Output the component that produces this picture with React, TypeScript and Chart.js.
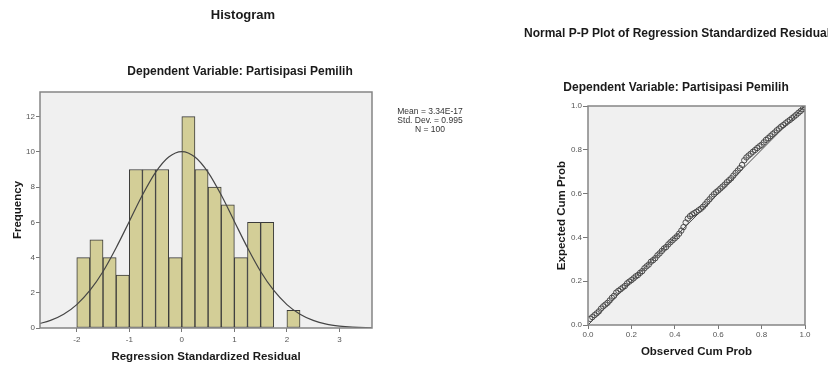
import React, { useEffect, useRef } from 'react';
import { Chart, registerables } from 'chart.js';

Chart.register(...registerables);

const FONT = '"Liberation Sans", Arial, Helvetica, sans-serif';

// ---------- Histogram data ----------
const histTitle = 'Histogram';
const depSubtitle = 'Dependent Variable: Partisipasi Pemilih';
const histXTitle = 'Regression Standardized Residual';
const histYTitle = 'Frequency';
const binWidth = 0.25;
const binStart = [-2, -1.75, -1.5, -1.25, -1, -0.75, -0.5, -0.25, 0, 0.25, 0.5, 0.75, 1, 1.25, 1.5, 1.75, 2];
const binCount = [4, 5, 4, 3, 9, 9, 9, 4, 12, 9, 8, 7, 4, 6, 6, 0, 1];
const curveX = [-2.75, -2.5, -2.25, -2, -1.75, -1.5, -1.25, -1, -0.75, -0.5, -0.25, 0, 0.25, 0.5, 0.75, 1, 1.25, 1.5, 1.75, 2, 2.25, 2.5, 2.75, 3, 3.25, 3.5, 3.75];
const curveY = [0.22, 0.43, 0.78, 1.33, 2.13, 3.21, 4.56, 6.05, 7.55, 8.84, 9.71, 10.02, 9.71, 8.84, 7.55, 6.05, 4.56, 3.21, 2.13, 1.33, 0.78, 0.43, 0.22, 0.11, 0.05, 0.02, 0.01];
const histXTicks = [-2, -1, 0, 1, 2, 3];
const histYTicks = [0, 2, 4, 6, 8, 10, 12];
const statsLines = ['Mean = 3.34E-17', 'Std. Dev. = 0.995', 'N = 100'];

// ---------- P-P plot data ----------
const ppTitle = 'Normal P-P Plot of Regression Standardized Residual';
const ppXTitle = 'Observed Cum Prob';
const ppYTitle = 'Expected Cum Prob';
const ppTicks = [0, 0.2, 0.4, 0.6, 0.8, 1.0];
const observedCum = [
  0.01, 0.02, 0.03, 0.04, 0.05, 0.06, 0.07, 0.08, 0.09, 0.10,
  0.11, 0.12, 0.13, 0.14, 0.15, 0.16, 0.17, 0.18, 0.19, 0.20,
  0.21, 0.22, 0.23, 0.24, 0.25, 0.26, 0.27, 0.28, 0.29, 0.30,
  0.31, 0.32, 0.33, 0.34, 0.35, 0.36, 0.37, 0.38, 0.39, 0.40,
  0.41, 0.42, 0.43, 0.44, 0.45, 0.46, 0.47, 0.48, 0.49, 0.50,
  0.51, 0.52, 0.53, 0.54, 0.55, 0.56, 0.57, 0.58, 0.59, 0.60,
  0.61, 0.62, 0.63, 0.64, 0.65, 0.66, 0.67, 0.68, 0.69, 0.70,
  0.71, 0.72, 0.73, 0.74, 0.75, 0.76, 0.77, 0.78, 0.79, 0.80,
  0.81, 0.82, 0.83, 0.84, 0.85, 0.86, 0.87, 0.88, 0.89, 0.90,
  0.91, 0.92, 0.93, 0.94, 0.95, 0.96, 0.97, 0.98, 0.99, 1.00,
];
const expectedCum = [
  0.028, 0.036, 0.045, 0.053, 0.062, 0.075, 0.085, 0.093, 0.101, 0.112,
  0.124, 0.133, 0.148, 0.156, 0.163, 0.171, 0.178, 0.190, 0.198, 0.205,
  0.213, 0.222, 0.228, 0.238, 0.246, 0.259, 0.268, 0.276, 0.289, 0.296,
  0.305, 0.318, 0.327, 0.338, 0.349, 0.356, 0.368, 0.378, 0.387, 0.396,
  0.405, 0.417, 0.431, 0.447, 0.468, 0.486, 0.497, 0.505, 0.511, 0.517,
  0.524, 0.531, 0.540, 0.551, 0.563, 0.574, 0.586, 0.597, 0.606, 0.614,
  0.623, 0.632, 0.641, 0.652, 0.661, 0.670, 0.682, 0.694, 0.705, 0.716,
  0.731, 0.752, 0.765, 0.774, 0.782, 0.791, 0.799, 0.808, 0.816, 0.823,
  0.834, 0.845, 0.853, 0.862, 0.871, 0.879, 0.889, 0.897, 0.906, 0.913,
  0.921, 0.929, 0.936, 0.944, 0.952, 0.960, 0.969, 0.977, 0.986, 0.995,
];
const diagonal = [0, 1];

// ---------- plugins ----------
const framePlugin = {
  id: 'spssFrame',
  beforeDraw(chart: any) {
    const { ctx, chartArea: a } = chart;
    ctx.save();
    ctx.fillStyle = '#f0f0f0';
    ctx.fillRect(a.left, a.top, a.right - a.left, a.bottom - a.top);
    ctx.restore();
  },
  afterDatasetsDraw(chart: any) {
    const { ctx, chartArea: a } = chart;
    ctx.save();
    ctx.strokeStyle = '#858585';
    ctx.lineWidth = 1.5;
    ctx.strokeRect(a.left, a.top, a.right - a.left, a.bottom - a.top);
    ctx.restore();
  },
};

type TextItem = { text: string; x: number; y: number; size: number; bold?: boolean; color?: string };

const textPlugin = {
  id: 'freeText',
  afterDraw(chart: any, _args: any, opts: any) {
    const items: TextItem[] = (opts && opts.items) || [];
    const ctx = chart.ctx;
    ctx.save();
    ctx.textAlign = 'center';
    ctx.textBaseline = 'middle';
    for (const it of items) {
      ctx.font = `${it.bold ? 'bold ' : ''}${it.size}px ${FONT}`;
      ctx.fillStyle = it.color || '#1a1a1a';
      ctx.fillText(it.text, it.x, it.y);
    }
    ctx.restore();
  },
};

const tickFont = { size: 8, family: FONT };
const axisTitleFont = { size: 11.5, weight: 'bold' as const, family: FONT };

function histConfig(): any {
  return {
    type: 'bar',
    data: {
      datasets: [
        {
          type: 'line',
          data: curveX.map((x, i) => ({ x, y: curveY[i] })),
          borderColor: '#454545',
          borderWidth: 1.2,
          pointRadius: 0,
          cubicInterpolationMode: 'monotone',
          fill: false,
          order: 0,
        },
        {
          type: 'bar',
          data: binStart.map((s, i) => ({ x: s + binWidth / 2, y: binCount[i] })),
          backgroundColor: '#d3ce97',
          borderColor: '#3a3a3a',
          borderWidth: 1,
          borderSkipped: false,
          barPercentage: 1,
          categoryPercentage: 1,
          order: 1,
        },
      ],
    },
    options: {
      responsive: false,
      animation: false,
      devicePixelRatio: 1,
      events: [],
      layout: { padding: { left: 0, right: 108, top: 92, bottom: 0 } },
      plugins: {
        legend: { display: false },
        tooltip: { enabled: false },
        freeText: {
          items: [
            { text: histTitle, x: 243, y: 15, size: 13, bold: true },
            { text: depSubtitle, x: 240, y: 72, size: 12, bold: true },
            { text: statsLines[0], x: 430, y: 112, size: 8.5, color: '#333' },
            { text: statsLines[1], x: 430, y: 121, size: 8.5, color: '#333' },
            { text: statsLines[2], x: 430, y: 130, size: 8.5, color: '#333' },
          ],
        },
      },
      scales: {
        x: {
          type: 'linear',
          min: -2.7,
          max: 3.62,
          offset: false,
          afterBuildTicks: (s: any) => { s.ticks = histXTicks.map((v) => ({ value: v })); },
          afterFit: (s: any) => { s.height = 39; },
          grid: { drawOnChartArea: false, drawTicks: true, tickLength: 4, color: '#777', offset: false },
          border: { display: false },
          ticks: { padding: 3, font: tickFont, color: '#555', maxRotation: 0, autoSkip: false, callback: (v: any) => String(v) },
          title: { display: true, text: histXTitle, font: axisTitleFont, color: '#1a1a1a', padding: { top: 0, bottom: 3 } },
        },
        y: {
          type: 'linear',
          min: 0,
          max: 13.4,
          afterBuildTicks: (s: any) => { s.ticks = histYTicks.map((v) => ({ value: v })); },
          afterFit: (s: any) => { s.width = 40; },
          grid: { drawOnChartArea: false, drawTicks: true, tickLength: 4, color: '#777' },
          border: { display: false },
          ticks: { padding: 1, font: tickFont, color: '#555', autoSkip: false, callback: (v: any) => String(v) },
          title: { display: true, text: histYTitle, font: axisTitleFont, color: '#1a1a1a', padding: { top: 11, bottom: 0 } },
        },
      },
    },
    plugins: [framePlugin, textPlugin],
  };
}

function ppConfig(): any {
  return {
    type: 'scatter',
    data: {
      datasets: [
        {
          type: 'scatter',
          data: diagonal.map((v) => ({ x: v, y: v })),
          showLine: true,
          borderColor: '#4a4a4a',
          borderWidth: 1,
          pointRadius: 0,
          order: 0,
        },
        {
          type: 'scatter',
          data: observedCum.map((x, i) => ({ x, y: expectedCum[i] })),
          pointStyle: 'circle',
          pointRadius: 2.7,
          borderColor: '#3c3c3c',
          borderWidth: 0.9,
          backgroundColor: 'rgba(0,0,0,0)',
          order: 1,
        },
      ],
    },
    options: {
      responsive: false,
      animation: false,
      devicePixelRatio: 1,
      events: [],
      layout: { padding: { left: 60, right: 23, top: 106, bottom: 0 } },
      plugins: {
        legend: { display: false },
        tooltip: { enabled: false },
        freeText: {
          items: [
            { text: ppTitle, x: 197, y: 34, size: 12, bold: true },
            { text: depSubtitle, x: 196, y: 88, size: 12, bold: true },
          ],
        },
      },
      scales: {
        x: {
          type: 'linear',
          min: 0,
          max: 1,
          afterBuildTicks: (s: any) => { s.ticks = ppTicks.map((v) => ({ value: v })); },
          afterFit: (s: any) => { s.height = 42; },
          grid: { drawOnChartArea: false, drawTicks: true, tickLength: 4, color: '#777' },
          border: { display: false },
          ticks: { padding: 1, font: tickFont, color: '#555', maxRotation: 0, autoSkip: false, callback: (v: any) => Number(v).toFixed(1) },
          title: { display: true, text: ppXTitle, font: axisTitleFont, color: '#1a1a1a', padding: { top: 0, bottom: 8 } },
        },
        y: {
          type: 'linear',
          min: 0,
          max: 1,
          afterBuildTicks: (s: any) => { s.ticks = ppTicks.map((v) => ({ value: v })); },
          afterFit: (s: any) => { s.width = 48; },
          grid: { drawOnChartArea: false, drawTicks: true, tickLength: 5, color: '#777' },
          border: { display: false },
          ticks: { padding: 1, font: tickFont, color: '#555', autoSkip: false, callback: (v: any) => Number(v).toFixed(1) },
          title: { display: true, text: ppYTitle, font: axisTitleFont, color: '#1a1a1a', padding: { top: 15, bottom: 0 } },
        },
      },
    },
    plugins: [framePlugin, textPlugin],
  };
}

export default function App() {
  const histRef = useRef<HTMLCanvasElement>(null);
  const ppRef = useRef<HTMLCanvasElement>(null);

  useEffect(() => {
    const c1 = new Chart(histRef.current as HTMLCanvasElement, histConfig());
    const c2 = new Chart(ppRef.current as HTMLCanvasElement, ppConfig());
    return () => {
      c1.destroy();
      c2.destroy();
    };
  }, []);

  return (
    <div style={{ position: 'absolute', left: 0, top: 0, width: 828, height: 367, background: '#fff', overflow: 'hidden' }}>
      <canvas ref={histRef} width={480} height={367} style={{ position: 'absolute', left: 0, top: 0, width: 480, height: 367 }} />
      <canvas ref={ppRef} width={348} height={367} style={{ position: 'absolute', left: 480, top: 0, width: 348, height: 367 }} />
    </div>
  );
}
